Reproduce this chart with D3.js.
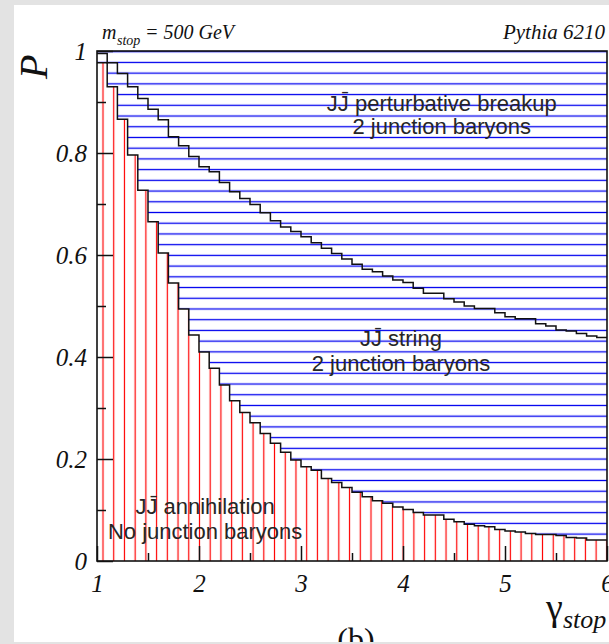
<!DOCTYPE html>
<html>
<head>
<meta charset="utf-8">
<script src="https://cdn.jsdelivr.net/npm/d3@7"></script>
<style>
body { margin: 0; background: #e3e3e3; }
svg { display: block; }
.serif { font-family: "Liberation Serif", "Times New Roman", serif; font-style: italic; fill: #111; }
.sans { font-family: "Liberation Sans", Arial, sans-serif; fill: #262626; }
</style>
</head>
<body>
<svg id="chart" width="609" height="644"></svg>
<script>
// bins: 50 bins of width 0.1 from gamma = 1 to 6
var binLow = d3.range(50).map(function(i) { return 1 + i * 0.1; });
var binWidth = 0.1;

// cumulative probability: JJbar annihilation (lower boundary)
var annihilation = [0.977, 0.930, 0.866, 0.796, 0.727, 0.665, 0.604, 0.545, 0.494, 0.443,
	0.410, 0.378, 0.345, 0.314, 0.291, 0.271, 0.250, 0.231, 0.213, 0.198,
	0.185, 0.178, 0.162, 0.154, 0.144, 0.135, 0.126, 0.118, 0.113, 0.106,
	0.101, 0.095, 0.090, 0.090, 0.082, 0.077, 0.072, 0.069, 0.067, 0.062,
	0.059, 0.057, 0.054, 0.052, 0.052, 0.050, 0.046, 0.045, 0.041, 0.041];

// cumulative probability: annihilation + JJbar string (upper boundary)
var annihilationString = [0.995, 0.977, 0.956, 0.930, 0.907, 0.886, 0.865, 0.832, 0.814, 0.793,
	0.773, 0.763, 0.742, 0.724, 0.711, 0.699, 0.683, 0.667, 0.655, 0.646,
	0.636, 0.624, 0.613, 0.603, 0.592, 0.582, 0.572, 0.567, 0.559, 0.551,
	0.546, 0.535, 0.525, 0.525, 0.514, 0.508, 0.500, 0.495, 0.495, 0.487,
	0.479, 0.475, 0.475, 0.465, 0.461, 0.453, 0.451, 0.446, 0.441, 0.438];

// tick values
var xMajor = [1, 2, 3, 4, 5, 6];
var xMinor = [1.5, 2.5, 3.5, 4.5, 5.5];
var yMajor = [0, 0.2, 0.4, 0.6, 0.8, 1];
var yMinor = [0.1, 0.3, 0.5, 0.7, 0.9];

// region labels
var regionLabels = [
	{ lines: ['JJ\u0304 perturbative breakup', '2 junction baryons'], x: 4.38, y: [0.883, 0.838] },
	{ lines: ['JJ\u0304 string', '2 junction baryons'], x: 3.98, y: [0.421, 0.373] },
	{ lines: ['JJ\u0304 annihilation', 'No junction baryons'], x: 2.06, y: [0.092, 0.043] }
];

var svg = d3.select('svg#chart');
var width = 609, height = 644;

// paper background
svg.append('rect').attr('width', width).attr('height', height).style('fill', '#e3e3e3');
svg.append('rect').attr('x', 14).attr('y', 5).attr('width', width - 14).attr('height', 637)
		.style('fill', '#fff');

var x = d3.scaleLinear().domain([1, 6]).range([97, 607]);
var y = d3.scaleLinear().domain([0, 1]).range([561, 51]);

// hatch patterns (ROOT style)
var hatch = 10.72;
var defs = svg.append('defs');
defs.append('pattern').attr('id', 'redHatch').attr('patternUnits', 'userSpaceOnUse')
		.attr('x', 103 - hatch / 2).attr('y', 0).attr('width', hatch).attr('height', 20)
		.append('line').attr('x1', hatch / 2).attr('x2', hatch / 2).attr('y1', -1).attr('y2', 21)
		.style('stroke', '#ff0000').style('stroke-width', 1.2);
defs.append('pattern').attr('id', 'blueHatch').attr('patternUnits', 'userSpaceOnUse')
		.attr('x', 0).attr('y', 51.7 - hatch / 2).attr('width', 20).attr('height', hatch)
		.append('line').attr('y1', hatch / 2).attr('y2', hatch / 2).attr('x1', -1).attr('x2', 21)
		.style('stroke', '#0000ee').style('stroke-width', 1.3);

// step points for a histogram
function steps(values) {
	var pts = [];
	values.forEach(function(v, i) {
		pts.push([binLow[i], v]);
		pts.push([binLow[i] + binWidth, v]);
	});
	return pts;
}

var lowerSteps = steps(annihilation);
var upperSteps = steps(annihilationString);

var area = d3.area().x(function(d) { return x(d[0]); });

// red region: annihilation
svg.append('path').datum(lowerSteps)
		.attr('d', area.y0(y(0)).y1(function(d) { return y(d[1]); }))
		.style('fill', 'url(#redHatch)');

// blue region: string + perturbative breakup
svg.append('path').datum(lowerSteps)
		.attr('d', area.y0(function(d) { return y(d[1]); }).y1(y(1)))
		.style('fill', 'url(#blueHatch)');

// histogram outlines
var line = d3.line().x(function(d) { return x(d[0]); }).y(function(d) { return y(d[1]); });
svg.append('path').datum(lowerSteps).attr('d', line)
		.style('fill', 'none').style('stroke', '#111').style('stroke-width', 1.5);
svg.append('path').datum(upperSteps).attr('d', line)
		.style('fill', 'none').style('stroke', '#111').style('stroke-width', 1.5);

// frame
svg.append('rect').attr('x', x(1)).attr('y', y(1)).attr('width', x(6) - x(1))
		.attr('height', y(0) - y(1)).style('fill', 'none').style('stroke', '#111')
		.style('stroke-width', 1.6);

// axes with inward ticks
function styleAxis(g) {
	g.select('.domain').remove();
	g.selectAll('line').style('stroke', '#111').style('stroke-width', 1.5);
	g.selectAll('text').attr('class', 'serif').attr('fill', null).style('font-size', '25px');
}

svg.append('g').attr('transform', 'translate(0,' + y(0) + ')')
		.call(d3.axisBottom(x).tickValues(xMajor).tickSize(-15).tickPadding(13)
				.tickFormat(d3.format('d')))
		.call(styleAxis);
svg.append('g').attr('transform', 'translate(0,' + y(0) + ')')
		.call(d3.axisBottom(x).tickValues(xMinor).tickSize(-8).tickFormat(''))
		.call(styleAxis);
svg.append('g').attr('transform', 'translate(' + x(1) + ',0)')
		.call(d3.axisLeft(y).tickValues(yMajor).tickSize(-16).tickPadding(10)
				.tickFormat(d3.format('~g')))
		.call(styleAxis);
svg.append('g').attr('transform', 'translate(' + x(1) + ',0)')
		.call(d3.axisLeft(y).tickValues(yMinor).tickSize(-9).tickFormat(''))
		.call(styleAxis);

// region labels
regionLabels.forEach(function(r) {
	r.lines.forEach(function(t, i) {
		svg.append('text').attr('class', 'sans').attr('x', x(r.x)).attr('y', y(r.y[i]))
				.attr('text-anchor', 'middle').style('font-size', '22px').text(t);
	});
});

// header texts
var mass = svg.append('text').attr('class', 'serif').style('font-size', '20px');
mass.append('tspan').attr('x', 102).attr('y', 39).text('m');
mass.append('tspan').attr('x', 117).attr('y', 45).style('font-size', '14px').text('stop');
mass.append('tspan').attr('x', 145).attr('y', 39).text('= 500 GeV');

svg.append('text').attr('class', 'serif').attr('x', 605).attr('y', 39)
		.attr('text-anchor', 'end').style('font-size', '21px').text('Pythia 6210');

// axis titles
svg.append('text').attr('class', 'serif').attr('transform', 'translate(47,79) rotate(-90)')
		.style('font-size', '40px').text('P');

var gamma = svg.append('text').attr('class', 'serif');
gamma.append('tspan').attr('x', 546).attr('y', 620).style('font-style', 'normal')
		.style('font-size', '38px').text('\u03b3');
gamma.append('tspan').attr('x', 563).attr('y', 628).style('font-size', '26px').text('stop');

// panel tag, clipped by the page edge
svg.append('text').attr('x', 356).attr('y', 650).attr('text-anchor', 'middle')
		.style('font-family', '"Liberation Serif", serif').style('font-size', '32px')
		.style('fill', '#111').text('(b)');
svg.append('rect').attr('x', 0).attr('y', 642).attr('width', width).attr('height', 2)
		.style('fill', '#e3e3e3');
</script>
</body>
</html>
